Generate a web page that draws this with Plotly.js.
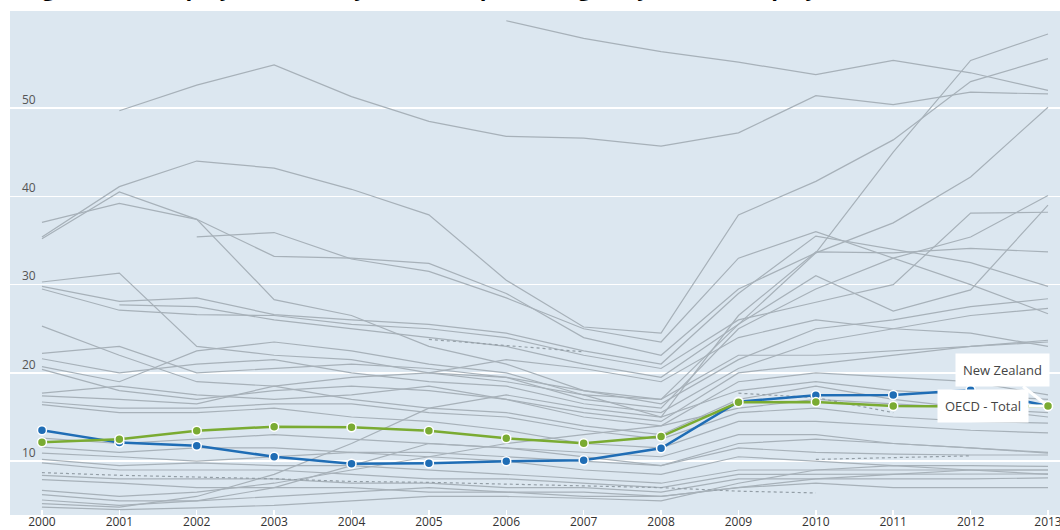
<!DOCTYPE html>
<html>
<head>
<meta charset="utf-8">
<script src="https://cdn.plot.ly/plotly-3.0.1.min.js"></script>
<style>
html,body{margin:0;padding:0;background:#fff;overflow:hidden;}
#chart{width:1060px;height:530px;}
</style>
</head>
<body>
<div id="chart"></div>
<script>
const years = [2000,2001,2002,2003,2004,2005,2006,2007,2008,2009,2010,2011,2012,2013];
const titleText = "Long-term unemployment rate: youth, as a percentage of youth unemployment";
const yTicks = [10,20,30,40,50];

const newZealand = [13.5,12.1,11.75,10.5,9.7,9.76,9.99,10.1,11.46,16.74,17.46,17.5,18.06,16.25];
const oecdTotal  = [12.14,12.48,13.45,13.91,13.84,13.45,12.59,12.03,12.78,16.67,16.7,16.25,16.2,16.25];

const n = null;
const otherCountries = [
  [n,n,n,n,n,n,59.9,57.9,56.4,55.2,53.8,55.4,54.0,52.0],
  [n,49.7,52.6,54.9,51.3,48.5,46.8,46.6,45.7,47.2,51.4,50.4,51.8,51.6],
  [35.4,41.1,44.0,43.2,40.8,37.9,30.5,25.2,24.5,37.9,41.7,46.4,53.0,55.6],
  [35.2,40.5,37.4,28.3,26.5,23.0,21.0,18.0,17.0,25.5,33.6,45.0,55.4,58.4],
  [37.05,39.2,37.4,33.2,33.0,32.4,29.0,24.0,22.0,29.5,33.6,37.0,42.2,50.1],
  [n,n,35.4,35.9,32.9,31.5,28.5,25.0,23.5,33.0,36.0,33.0,30.0,26.7],
  [30.3,31.3,23.0,22.0,21.5,20.0,19.5,17.0,16.0,25.0,29.5,33.0,35.4,40.1],
  [29.8,28.1,28.5,26.6,26.0,25.5,24.5,22.5,21.0,29.0,35.5,34.0,32.5,29.8],
  [29.5,27.1,26.6,26.5,25.5,25.0,24.0,22.0,20.5,26.0,28.0,30.0,38.1,38.2],
  [n,27.7,27.5,26.0,25.0,24.0,23.0,21.0,19.5,25.5,31.0,27.0,29.4,39.0],
  [25.3,22.0,19.0,18.5,19.5,20.0,19.0,17.5,15.0,26.5,33.7,33.6,34.1,33.7],
  [22.2,23.0,20.0,20.5,21.0,20.5,19.5,18.0,16.5,21.5,25.0,26.0,27.5,28.4],
  [21.6,20.0,21.0,21.5,20.0,19.0,18.5,16.5,15.5,20.5,23.5,25.0,26.5,27.3],
  [20.7,19.0,22.5,23.5,22.5,21.0,20.0,17.5,17.0,22.0,22.0,22.5,23.0,23.7],
  [20.4,18.0,17.0,18.0,18.5,18.0,17.0,15.5,14.5,20.0,21.0,22.0,23.0,23.5],
  [17.7,18.5,17.5,17.0,17.5,18.5,17.0,15.0,14.0,19.0,20.0,19.5,19.0,17.5],
  [17.4,17.0,16.5,18.5,17.0,16.0,15.5,14.0,13.0,17.0,18.5,17.0,16.0,15.5],
  [16.7,16.0,16.0,16.5,16.5,15.5,15.0,13.5,12.5,15.5,16.0,15.0,14.5,14.3],
  [16.4,15.5,15.5,16.0,15.0,14.5,13.5,12.0,11.5,14.5,14.5,14.0,13.5,13.2],
  [12.6,12.0,12.5,13.0,12.5,12.0,11.5,11.0,10.5,13.0,13.0,12.0,11.5,10.9],
  [11.6,11.0,11.5,11.5,11.0,11.0,10.5,10.0,9.5,11.5,11.0,10.8,10.7,10.7],
  [10.9,10.5,10.0,10.5,11.0,10.5,10.0,9.0,8.5,10.5,10.0,9.5,9.5,9.4],
  [10.2,9.5,9.8,9.5,9.5,9.0,8.5,8.0,7.5,9.0,9.0,9.0,9.0,9.0],
  [9.8,9.0,9.0,9.0,8.5,8.0,8.0,7.5,7.0,8.5,8.5,8.5,8.5,8.55],
  [8.4,8.0,8.0,8.0,7.5,7.5,7.0,7.0,6.5,8.0,8.0,8.0,8.0,8.1],
  [7.9,7.5,7.0,7.0,7.0,6.5,6.5,6.5,6.0,7.0,7.5,7.0,7.0,7.0],
  [6.7,6.0,6.5,7.5,9.0,10.5,12.0,13.0,14.0,16.0,17.0,16.5,16.0,15.0],
  [6.2,5.5,5.5,7.0,9.5,12.0,11.5,10.5,9.5,12.0,12.5,12.0,11.5,11.0],
  [5.6,5.0,5.5,6.0,6.5,7.0,6.5,6.0,6.0,7.0,8.0,8.5,9.0,9.0],
  [5.2,4.8,6.0,8.5,12.0,16.0,17.5,16.0,15.0,18.0,19.0,18.0,17.5,17.0],
  [4.8,4.5,4.7,5.0,5.5,6.0,6.0,5.8,5.5,7.5,9.0,9.5,9.0,8.5],
  [n,n,n,n,n,20.0,21.5,20.5,19.0,24.0,26.0,25.0,24.5,23.0]
];
const brokenSeries = [
  [8.7,8.4,8.2,8.0,7.7,7.6,7.4,7.2,7.0,6.6,6.4,n,n,n],
  [n,n,n,n,n,23.8,23.1,22.4,n,n,n,n,n,n],
  [n,n,n,n,n,n,n,n,n,17.7,17.2,15.5,n,n],
  [n,n,n,n,n,n,n,n,n,n,10.2,10.4,10.6,n]
];

const traces = [];
otherCountries.forEach(v => traces.push({
  x: years, y: v, type: 'scatter', mode: 'lines',
  line: {color: '#a7b1b9', width: 1.2}, hoverinfo: 'skip', showlegend: false
}));
brokenSeries.forEach(v => traces.push({
  x: years, y: v, type: 'scatter', mode: 'lines',
  line: {color: '#939ea6', width: 1.2, dash: 'dot'}, hoverinfo: 'skip', showlegend: false
}));
traces.push({
  x: years, y: newZealand, type: 'scatter', mode: 'lines+markers', name: 'New Zealand',
  line: {color: '#1f6db5', width: 2.5},
  marker: {size: 9, color: '#1f6db5', line: {color: '#ffffff', width: 1.5}},
  showlegend: false
});
traces.push({
  x: years, y: oecdTotal, type: 'scatter', mode: 'lines+markers', name: 'OECD - Total',
  line: {color: '#7aab32', width: 2.5},
  marker: {size: 9, color: '#7aab32', line: {color: '#ffffff', width: 1.5}},
  showlegend: false
});

const last = years.length - 1;
const layout = {
  width: 1060, height: 530,
  margin: {l: 10, r: 0, t: 11, b: 15},
  paper_bgcolor: '#ffffff',
  plot_bgcolor: '#dce7f0',
  showlegend: false,
  font: {family: 'Open Sans, sans-serif', color: '#444'},
  xaxis: {
    range: [1999.587, 2013.155],
    tickvals: years, ticktext: years.map(String),
    ticks: 'inside', ticklen: 5, tickcolor: '#ffffff', tickwidth: 1.5,
    ticklabeloverflow: 'allow',
    ticklabelstandoff: -2,
    showgrid: false, zeroline: false, showline: false,
    tickfont: {size: 12, color: '#333'}
  },
  yaxis: {
    range: [3.9, 61],
    tickvals: yTicks,
    ticklabelposition: 'inside top',
    ticklabelstandoff: 9,
    showgrid: true, gridcolor: '#ffffff', gridwidth: 1.5,
    zeroline: false, showline: false, ticks: '',
    tickfont: {size: 12, color: '#555'}
  },
  annotations: [
    {
      xref: 'paper', yref: 'paper', x: -0.0095, y: 1, xanchor: 'left', yanchor: 'bottom',
      yshift: 7, showarrow: false, text: '<b>' + titleText + '</b>',
      font: {size: 22, color: '#000', family: 'Open Sans, sans-serif'}
    },
    {
      x: years[last], y: newZealand[last], text: 'New Zealand',
      showarrow: true, ax: -46, ay: -36, arrowhead: 0, arrowwidth: 3, arrowcolor: '#ffffff',
      standoff: 4, bgcolor: '#ffffff', borderpad: 7,
      font: {size: 13, color: '#444'}
    },
    {
      x: years[last], y: oecdTotal[last], text: 'OECD - Total',
      showarrow: true, ax: -65, ay: 0, arrowhead: 0, arrowwidth: 3, arrowcolor: '#ffffff',
      standoff: 4, bgcolor: '#ffffff', borderpad: 7,
      font: {size: 13, color: '#444'}
    }
  ]
};

Plotly.newPlot('chart', traces, layout, {displayModeBar: false, staticPlot: true});
</script>
</body>
</html>
